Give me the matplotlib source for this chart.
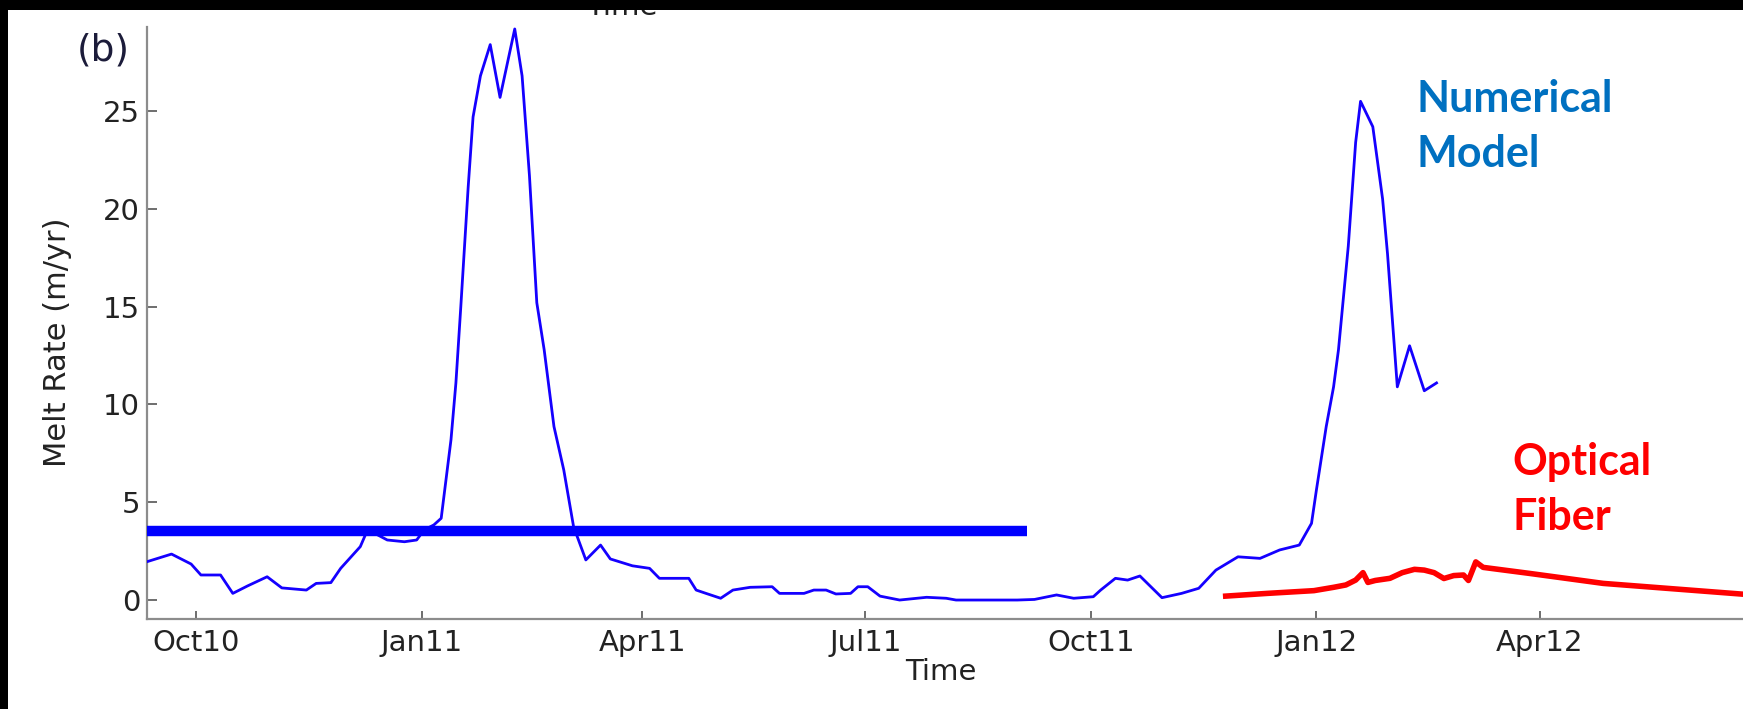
import matplotlib
matplotlib.use("Agg")
import matplotlib.pyplot as plt
import matplotlib.dates as mdates
import numpy as np
from matplotlib.patches import Rectangle

plt.rcParams["font.family"] = "DejaVu Sans"

# numerical model melt rate (m/yr)
MODEL_DATES = [
    "2010-09-11", "2010-09-21", "2010-09-29", "2010-10-03", "2010-10-11",
    "2010-10-16", "2010-10-22", "2010-10-30", "2010-11-05", "2010-11-15",
    "2010-11-19", "2010-11-25", "2010-11-29", "2010-12-07", "2010-12-10",
    "2010-12-18", "2010-12-25", "2010-12-30", "2011-01-02", "2011-01-06",
    "2011-01-09", "2011-01-13", "2011-01-15", "2011-01-17", "2011-01-20",
    "2011-01-22", "2011-01-25", "2011-01-29", "2011-02-02", "2011-02-08",
    "2011-02-11", "2011-02-14", "2011-02-17", "2011-02-20", "2011-02-24",
    "2011-02-28", "2011-03-04", "2011-03-09", "2011-03-15", "2011-03-19",
    "2011-03-28", "2011-04-04", "2011-04-08", "2011-04-15", "2011-04-20",
    "2011-04-23", "2011-04-27", "2011-05-03", "2011-05-08", "2011-05-15",
    "2011-05-24", "2011-05-27", "2011-06-06", "2011-06-10", "2011-06-15",
    "2011-06-19", "2011-06-25", "2011-06-28", "2011-07-02", "2011-07-07",
    "2011-07-15", "2011-07-26", "2011-08-03", "2011-08-07", "2011-09-01",
    "2011-09-08", "2011-09-17", "2011-09-24", "2011-10-02", "2011-10-05",
    "2011-10-11", "2011-10-16", "2011-10-21", "2011-10-30", "2011-11-07",
    "2011-11-14", "2011-11-21", "2011-11-30", "2011-12-09", "2011-12-17",
    "2011-12-25", "2011-12-30", "2012-01-01", "2012-01-05", "2012-01-08",
    "2012-01-10", "2012-01-14", "2012-01-17", "2012-01-19", "2012-01-24",
    "2012-01-28", "2012-01-30", "2012-02-03", "2012-02-08", "2012-02-14",
    "2012-02-19",
]
MODEL_RATE = [
    1.96, 2.35, 1.84, 1.28, 1.28,
    0.34, 0.72, 1.19, 0.62, 0.51,
    0.85, 0.89, 1.62, 2.73, 3.60,
    3.07, 2.98, 3.07, 3.58, 3.84,
    4.18, 8.20, 11.1, 15.0, 21.1,
    24.7, 26.8, 28.4, 25.7, 29.2,
    26.8, 21.7, 15.2, 12.8, 8.87,
    6.65, 3.75, 2.05, 2.81, 2.10,
    1.75, 1.62, 1.11, 1.11, 1.11,
    0.51, 0.34, 0.09, 0.51, 0.65,
    0.68, 0.34, 0.34, 0.51, 0.51,
    0.31, 0.34, 0.68, 0.68, 0.20,
    0.00, 0.14, 0.09, 0.00, 0.00,
    0.03, 0.26, 0.09, 0.17, 0.51,
    1.11, 1.02, 1.23, 0.12, 0.34,
    0.60, 1.53, 2.21, 2.13, 2.56,
    2.81, 3.92, 5.63, 8.87, 10.9,
    12.8, 18.1, 23.4, 25.5, 24.2,
    20.5, 17.7, 10.9, 13.0, 10.7,
    11.1,
]

# optical fiber melt rate (m/yr)
FIBER_DATES = [
    "2011-11-25", "2011-12-12", "2011-12-31", "2012-01-08", "2012-01-13",
    "2012-01-17", "2012-01-20", "2012-01-22", "2012-01-25", "2012-01-31",
    "2012-02-05", "2012-02-10", "2012-02-14", "2012-02-18", "2012-02-22",
    "2012-02-26", "2012-03-01", "2012-03-03", "2012-03-06", "2012-03-09",
    "2012-03-28", "2012-04-27", "2012-05-28", "2012-06-27",
]
FIBER_RATE = [
    0.20, 0.34, 0.48, 0.65, 0.77,
    1.02, 1.40, 0.90, 1.00, 1.11,
    1.40, 1.57, 1.53, 1.40, 1.10,
    1.25, 1.28, 1.00, 1.95, 1.67,
    1.36, 0.85, 0.55, 0.26,
]

# mean melt rate over the first year
MEAN_DATES = ["2010-09-01", "2011-09-05"]
MEAN_RATE = 3.55

X_RANGE = ["2010-09-11", "2012-06-23"]
X_TICKS = ["2010-10-01", "2011-01-01", "2011-04-01", "2011-07-01",
           "2011-10-01", "2012-01-01", "2012-04-01"]
Y_TICKS = [0, 5, 10, 15, 20, 25]
Y_RANGE = [-0.97, 29.3]

W, H = 1743, 709


def fx(px):
    return px / W


def fy(py):
    return 1 - py / H


def main() -> None:
    fig = plt.figure(figsize=(W / 100, H / 100), dpi=100)
    fig.patch.set_facecolor("white")
    ax = fig.add_axes([fx(147), fy(619), (W - 147) / W, (619 - 27) / H])

    ax.plot(np.array(MODEL_DATES, dtype="datetime64[D]"), MODEL_RATE,
            color="#1500ff", linewidth=2.0, zorder=3)
    ax.plot(np.array(MEAN_DATES, dtype="datetime64[D]"), [MEAN_RATE] * 2,
            color="#0000ff", linewidth=7.5, solid_capstyle="butt", zorder=4)
    ax.plot(np.array(FIBER_DATES, dtype="datetime64[D]"), FIBER_RATE,
            color="#ff0000", linewidth=4.0, zorder=5)

    ax.set_xlim(np.array(X_RANGE, dtype="datetime64[D]"))
    ax.set_ylim(Y_RANGE)
    ax.set_xticks(np.array(X_TICKS, dtype="datetime64[D]"))
    ax.xaxis.set_major_formatter(mdates.DateFormatter("%b%y"))
    ax.set_yticks(Y_TICKS)

    for side in ("top", "right"):
        ax.spines[side].set_visible(False)
    for side in ("left", "bottom"):
        ax.spines[side].set_color("#8c8c8c")
        ax.spines[side].set_linewidth(1.6)

    ax.tick_params(axis="x", direction="in", length=6, width=1.2,
                   color="#555555", labelsize=21, labelcolor="#222222", pad=7)
    ax.tick_params(axis="y", direction="in", length=7, width=1.2,
                   color="#555555", labelsize=21, labelcolor="#222222", pad=5)

    ax.set_xlabel("Time", fontsize=21, color="#222222", va="center")
    ax.xaxis.set_label_coords(0.4975, -0.0895)
    ax.set_ylabel("Melt Rate (m/yr)", fontsize=22, color="#222222", va="center")
    ax.yaxis.set_label_coords(-0.056, 0.468)

    fig.text(fx(103), fy(51), "(b)", fontsize=27, color="#1c1c3a",
             ha="center", va="center")

    # xlabel of the panel above, mostly hidden under the frame
    fig.text(fx(622), fy(15), "Time", fontsize=21, color="#222222",
             ha="center", va="baseline")

    fig.text(fx(1417), fy(79), "Numerical\nModel", fontsize=31,
             family="Lato", weight="bold", color="#0070c0",
             ha="left", va="top", linespacing=1.45)
    fig.text(fx(1512), fy(442), "Optical\nFiber", fontsize=31,
             family="Lato", weight="bold", color="#ff0000",
             ha="left", va="top", linespacing=1.45)

    # black frame along the top and left edges
    fig.add_artist(Rectangle((0, fy(10)), 1, 10 / H, transform=fig.transFigure,
                             facecolor="black", edgecolor="none", zorder=20))
    fig.add_artist(Rectangle((0, 0), 8 / W, 1, transform=fig.transFigure,
                             facecolor="black", edgecolor="none", zorder=20))

    fig.savefig("out.png", dpi=100)
    plt.close(fig)


if __name__ == "__main__":
    main()
